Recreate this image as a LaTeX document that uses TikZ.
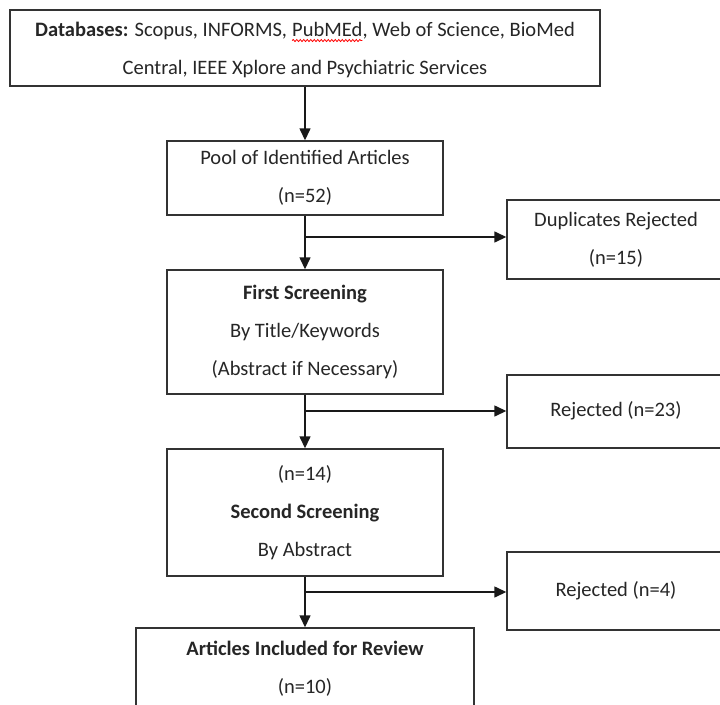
\documentclass[tikz,border=0pt]{standalone}
\usepackage{fontspec}
\setmainfont{Carlito}
\usetikzlibrary{arrows.meta,decorations.pathmorphing}
% red wavy underline, as a spell checker marks a word
\newcommand\spellwave[1]{\tikz[baseline=(w.base)]{%
  \node[draw=none, inner sep=0pt, outer sep=0pt, minimum width=0pt,
    minimum height=0pt] (w) {#1};
  \draw[red, line width=0.8pt, decorate,
    decoration={snake, amplitude=1pt, segment length=3.5pt}]
    ([yshift=-4pt]w.base west) -- ([yshift=-4pt]w.base east);}}
\begin{document}
\begin{tikzpicture}[x=1pt,y=-1pt,
  box/.style={draw=black!80, line width=1.4pt, inner sep=0pt, align=center,
    font=\fontsize{20.5}{38}\selectfont, text=black!85},
  words/.style={inner sep=0pt, align=center,
    font=\fontsize{20.5}{38}\selectfont, text=black!85},
  flow/.style={draw=black!90, line width=1.4pt, -{Triangle[length=12pt,width=11pt]}}]
\useasboundingbox[fill=white] (0,0) rectangle (720,704);

% main column
\node[box, minimum width=590pt, minimum height=76pt] (db) at (305,48) {};
\node[words] (dbtext) at (305,50)
  {\textbf{Databases:} Scopus, INFORMS, \spellwave{PubMEd}, Web of Science, BioMed\\Central, IEEE Xplore and Psychiatric Services};
\node[box, minimum width=276pt, minimum height=74pt] (pool) at (305,178)
  {Pool of Identified Articles\\(n=52)};
\node[box, minimum width=276pt, minimum height=124pt] (first) at (305,332)
  {\textbf{First Screening}\\By Title/Keywords\\(Abstract if Necessary)};
\node[box, minimum width=276pt, minimum height=127pt] (second) at (305,512.5)
  {(n=14)\\\textbf{Second Screening}\\By Abstract};
\node[box, minimum width=338pt, minimum height=120pt] (final) at (305,688) {};
\node[words] (finaltext) at (305,669)
  {\textbf{Articles Included for Review}\\(n=10)};

% rejected side column
\node[box, minimum width=218pt, minimum height=79pt] (dup) at (616,239.5)
  {Duplicates Rejected\\(n=15)};
\node[box, minimum width=218pt, minimum height=73pt] (rej1) at (616,411.5)
  {\raisebox{5pt}{Rejected (n=23)}};
\node[box, minimum width=218pt, minimum height=78pt] (rej2) at (616,591)
  {\raisebox{5pt}{Rejected (n=4)}};

% branch points
\coordinate (b1) at (305,237);
\coordinate (b2) at (305,411);
\coordinate (b3) at (305,592);

% connectors
\draw[flow] (db.south) -- (pool.north);
\draw[flow] (pool.south) -- (first.north);
\draw[flow] (first.south) -- (second.north);
\draw[flow] (second.south) -- (final.north);
\draw[flow] (b1) -- (b1 -| dup.west);
\draw[flow] (b2) -- (b2 -| rej1.west);
\draw[flow] (b3) -- (b3 -| rej2.west);
\end{tikzpicture}
\end{document}
